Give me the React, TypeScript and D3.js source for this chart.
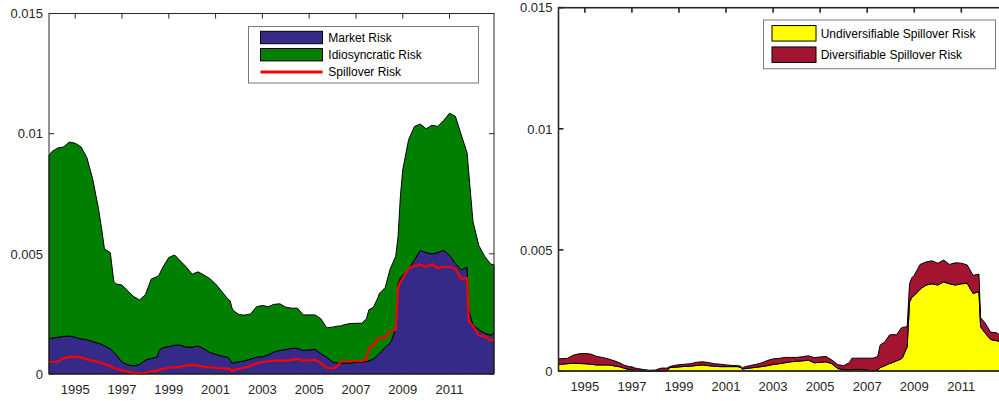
import * as d3 from 'd3';
import React from 'react';

// decimal years, roughly quarterly with extra points at the sharp moves
const dates = [
  1993.88, 1994.0, 1994.25, 1994.5, 1994.75, 1995.0, 1995.25, 1995.5, 1995.75,
  1996.0, 1996.15, 1996.25, 1996.5, 1996.65, 1996.75, 1997.0, 1997.25, 1997.5,
  1997.75, 1998.0, 1998.25, 1998.5, 1998.6, 1998.75, 1999.0, 1999.25, 1999.5,
  1999.75, 2000.0, 2000.25, 2000.5, 2000.75, 2001.0, 2001.25, 2001.5, 2001.62,
  2001.7, 2001.75, 2002.0, 2002.25, 2002.5, 2002.75, 2003.0, 2003.25, 2003.5,
  2003.75, 2004.0, 2004.25, 2004.5, 2004.75, 2005.0, 2005.25, 2005.5, 2005.75,
  2006.0, 2006.25, 2006.35, 2006.5, 2006.75, 2007.0, 2007.25, 2007.45, 2007.55,
  2007.75, 2007.95, 2008.0, 2008.25, 2008.45, 2008.5, 2008.7, 2008.8, 2008.9,
  2009.0, 2009.25, 2009.5, 2009.75, 2010.0, 2010.25, 2010.5, 2010.75, 2011.0,
  2011.25, 2011.5, 2011.75, 2011.82, 2012.0, 2012.25, 2012.5, 2012.75, 2012.9,
];

// all values below are in units of 1e-3
const marketRisk = [
  1.45, 1.49, 1.53, 1.56, 1.58, 1.53, 1.46, 1.43, 1.35,
  1.28, 1.22, 1.18, 1.05, 0.92, 0.8, 0.5, 0.38, 0.34,
  0.4, 0.58, 0.65, 0.7, 1.0, 1.1, 1.14, 1.2, 1.2,
  1.12, 1.12, 1.17, 1.05, 0.9, 0.82, 0.75, 0.7, 0.6,
  0.44, 0.47, 0.51, 0.55, 0.62, 0.7, 0.72, 0.8, 0.92,
  0.98, 1.02, 1.07, 1.07, 0.98, 1.0, 1.03, 0.85, 0.7,
  0.5, 0.45, 0.44, 0.45, 0.46, 0.48, 0.5, 0.52, 0.55,
  0.63, 0.8, 0.85, 1.1, 1.28, 1.35, 1.9, 3.78, 4.0,
  4.1, 4.35, 4.75, 5.15, 5.05, 5.0, 5.05, 5.15, 4.95,
  4.6, 4.33, 4.45, 2.67, 2.05, 1.85, 1.7, 1.62, 1.7,
];

const idiosyncraticRisk = [
  7.65, 7.76, 7.87, 7.89, 8.07, 8.07, 7.99, 7.57, 6.75,
  5.57, 4.68, 4.02, 4.0, 2.93, 2.95, 3.2, 3.07, 2.88,
  2.68, 2.72, 3.3, 3.35, 3.15, 3.35, 3.71, 3.75, 3.5,
  3.33, 3.03, 3.08, 3.07, 3.07, 2.93, 2.7, 2.45, 2.45,
  2.31, 2.18, 1.96, 1.9, 1.88, 2.1, 2.13, 2.0, 1.98,
  1.94, 1.76, 1.67, 1.67, 1.48, 1.46, 1.43, 1.45, 1.22,
  1.45, 1.55, 1.56, 1.6, 1.64, 1.63, 1.61, 1.78, 2.12,
  2.15, 2.4, 2.5, 2.5, 3.05, 3.1, 3.0, 1.94, 3.4,
  4.4, 5.4, 5.55, 5.25, 5.15, 5.35, 5.25, 5.4, 5.9,
  6.12, 5.62, 4.75, 5.73, 4.3, 3.5, 3.2, 2.96, 2.84,
];

const spilloverRisk = [
  0.5, 0.51, 0.52, 0.65, 0.71, 0.72, 0.7, 0.6, 0.56,
  0.5, 0.45, 0.42, 0.33, 0.25, 0.22, 0.15, 0.1, 0.06,
  0.03, 0.04, 0.12, 0.12, 0.18, 0.22, 0.26, 0.28, 0.3,
  0.36, 0.38, 0.35, 0.3, 0.28, 0.25, 0.23, 0.22, 0.2,
  0.12, 0.16, 0.22, 0.27, 0.33, 0.43, 0.5, 0.52, 0.56,
  0.56, 0.56, 0.59, 0.63, 0.55, 0.58, 0.6, 0.45, 0.26,
  0.22, 0.35, 0.53, 0.53, 0.53, 0.53, 0.53, 0.6, 1.07,
  1.2, 1.49, 1.5, 1.5, 1.78, 1.8, 1.83, 3.6, 3.85,
  3.95, 4.4, 4.5, 4.55, 4.45, 4.58, 4.4, 4.47, 4.45,
  4.38, 3.95, 4.0, 2.2, 2.0, 1.6, 1.58, 1.4, 1.42,
];

const undiversifiableRisk = [
  0.26, 0.28, 0.3, 0.32, 0.31, 0.3, 0.28, 0.25, 0.25,
  0.25, 0.23, 0.21, 0.17, 0.12, 0.09, 0.05, 0.02, 0.0,
  0.0, 0.0, 0.0, 0.0, 0.14, 0.15, 0.17, 0.19, 0.2,
  0.23, 0.25, 0.22, 0.2, 0.18, 0.18, 0.18, 0.18, 0.15,
  0.07, 0.09, 0.12, 0.15, 0.18, 0.22, 0.27, 0.3, 0.34,
  0.38, 0.4, 0.42, 0.45, 0.34, 0.36, 0.38, 0.3, 0.1,
  0.06, 0.04, 0.06, 0.07, 0.07, 0.04, 0.0, 0.05, 0.14,
  0.22, 0.31, 0.32, 0.42, 0.5, 0.55, 1.0, 2.85, 3.05,
  3.12, 3.38, 3.55, 3.6, 3.55, 3.68, 3.6, 3.55, 3.6,
  3.62, 3.2, 3.28, 1.83, 1.58, 1.3, 1.25, 1.2, 1.18,
];

const diversifiableRisk = [
  0.24, 0.23, 0.22, 0.33, 0.4, 0.42, 0.42, 0.35, 0.31,
  0.25, 0.22, 0.21, 0.16, 0.13, 0.13, 0.1, 0.08, 0.06,
  0.03, 0.04, 0.12, 0.12, 0.04, 0.07, 0.09, 0.09, 0.1,
  0.13, 0.13, 0.13, 0.1, 0.1, 0.07, 0.05, 0.04, 0.05,
  0.05, 0.07, 0.1, 0.12, 0.15, 0.21, 0.23, 0.22, 0.22,
  0.18, 0.16, 0.17, 0.18, 0.21, 0.22, 0.22, 0.15, 0.16,
  0.16, 0.31, 0.47, 0.46, 0.46, 0.49, 0.53, 0.55, 0.93,
  0.98, 1.18, 1.18, 1.08, 1.28, 1.25, 0.83, 0.75, 0.8,
  0.83, 1.02, 0.95, 0.95, 0.9, 0.9, 0.8, 0.92, 0.85,
  0.76, 0.75, 0.72, 0.37, 0.42, 0.3, 0.33, 0.2, 0.24,
];

const yTicks = [0, 0.005, 0.01, 0.015];
const yTickLabels = ['0', '0.005', '0.01', '0.015'];
const yearTicks = [1995, 1997, 1999, 2001, 2003, 2005, 2007, 2009, 2011];
const yearLabels = ['1995', '1997', '1999', '2001', '2003', '2005', '2007', '2009', '2011'];

const FONT = '"Liberation Sans", Arial, Helvetica, sans-serif';
const AXIS = '#262626';

type Layer = { name: string; values: number[]; color: string };
type LegendItem = { label: string; color: string; kind: 'patch' | 'line' };

type PanelProps = {
  left: number;
  right: number;
  top: number;
  bottom: number;
  layers: Layer[];
  line?: Layer;
  frameWidth: number;
  legend: {
    x: number; y: number; w: number; h: number;
    items: LegendItem[];
    rowStart: number; rowStep: number;
    patchX: number; patchW: number; patchH: number; textX: number;
  };
  rightTicks: boolean;
};

function Panel(p: PanelProps) {
  const x = d3.scaleLinear()
    .domain(d3.extent(dates) as [number, number])
    .range([p.left, p.right]);
  const y = d3.scaleLinear().domain([0, 0.015]).range([p.bottom, p.top]);

  const rows = dates.map((d, i) => {
    const r: any = { date: d };
    p.layers.forEach(l => { r[l.name] = l.values[i] / 1000; });
    return r;
  });
  const stacked = d3.stack().keys(p.layers.map(l => l.name))(rows);

  const area = d3.area<any>()
    .x(d => x(d.data.date))
    .y0(d => y(d[0]))
    .y1(d => y(d[1]));

  const linePath = p.line
    ? d3.line<number>()
        .x((_, i) => x(dates[i]))
        .y(v => y(v / 1000))(p.line.values)
    : null;

  const tl = 5;
  const lg = p.legend;

  return (
    <g>
      {/* ticks under the data */}
      <g stroke={AXIS} strokeWidth={p.frameWidth}>
        {yearTicks.map(t => (
          <g key={t}>
            <line x1={x(t)} x2={x(t)} y1={p.top} y2={p.top + tl} />
            <line x1={x(t)} x2={x(t)} y1={p.bottom} y2={p.bottom - tl} />
          </g>
        ))}
        {yTicks.map(t => (
          <g key={t}>
            <line x1={p.left} x2={p.left + tl} y1={y(t)} y2={y(t)} />
            {p.rightTicks && <line x1={p.right} x2={p.right - tl} y1={y(t)} y2={y(t)} />}
          </g>
        ))}
      </g>

      {stacked.map((s, i) => (
        <path key={p.layers[i].name} d={area(s as any) || ''}
          fill={p.layers[i].color} stroke="#000" strokeWidth={1} strokeLinejoin="round" />
      ))}
      {linePath && (
        <path d={linePath} fill="none" stroke={p.line!.color} strokeWidth={2.2} strokeLinejoin="round" />
      )}

      {/* frame */}
      <rect x={p.left} y={p.top} width={p.right - p.left} height={p.bottom - p.top}
        fill="none" stroke={AXIS} strokeWidth={p.frameWidth} />

      {/* tick labels */}
      <g fontFamily={FONT} fontSize={13} fill={AXIS}>
        {yTicks.map((t, i) => (
          <text key={t} x={p.left - 6} y={y(t) + 4.7} textAnchor="end">{yTickLabels[i]}</text>
        ))}
        {yearTicks.map((t, i) => (
          <text key={t} x={x(t)} y={p.bottom + 20.3} textAnchor="middle">{yearLabels[i]}</text>
        ))}
      </g>

      {/* legend */}
      <g>
        <rect x={lg.x} y={lg.y} width={lg.w} height={lg.h} fill="#fff" stroke="#7a7a7a" strokeWidth={1} />
        {lg.items.map((it, i) => {
          const cy = lg.rowStart + i * lg.rowStep;
          return (
            <g key={it.label}>
              {it.kind === 'patch' ? (
                <rect x={lg.patchX} y={cy - lg.patchH / 2} width={lg.patchW} height={lg.patchH}
                  fill={it.color} stroke="#000" strokeWidth={1} />
              ) : (
                <line x1={lg.patchX} x2={lg.patchX + lg.patchW} y1={cy} y2={cy}
                  stroke={it.color} strokeWidth={3} />
              )}
              <text x={lg.textX} y={cy + 4.3} fontFamily={FONT} fontSize={12} fill="#000">{it.label}</text>
            </g>
          );
        })}
      </g>
    </g>
  );
}

export default function App() {
  return (
    <svg width={999} height={401} style={{ position: 'absolute', left: 0, top: 0, background: '#fff' }}>
      <Panel
        left={49} right={494} top={13.5} bottom={374}
        frameWidth={1}
        rightTicks={true}
        layers={[
          { name: 'market', values: marketRisk, color: '#352A87' },
          { name: 'idio', values: idiosyncraticRisk, color: '#007F00' },
        ]}
        line={{ name: 'spill', values: spilloverRisk, color: '#FF0000' }}
        legend={{
          x: 248.5, y: 26.5, w: 230, h: 56.5,
          rowStart: 37.5, rowStep: 17.2,
          patchX: 260.5, patchW: 62, patchH: 12.4, textX: 328.3,
          items: [
            { label: 'Market Risk', color: '#352A87', kind: 'patch' },
            { label: 'Idiosyncratic Risk', color: '#007F00', kind: 'patch' },
            { label: 'Spillover Risk', color: '#FF0000', kind: 'line' },
          ],
        }}
      />
      <Panel
        left={558.5} right={1006} top={7.7} bottom={371}
        frameWidth={1.6}
        rightTicks={false}
        layers={[
          { name: 'undiv', values: undiversifiableRisk, color: '#FFFF00' },
          { name: 'div', values: diversifiableRisk, color: '#A2142F' },
        ]}
        legend={{
          x: 763.5, y: 20, w: 232, h: 48.7,
          rowStart: 33.3, rowStep: 21.4,
          patchX: 772, patchW: 44, patchH: 15.5, textX: 820.7,
          items: [
            { label: 'Undiversifiable Spillover Risk', color: '#FFFF00', kind: 'patch' },
            { label: 'Diversifiable Spillover Risk', color: '#A2142F', kind: 'patch' },
          ],
        }}
      />
    </svg>
  );
}
